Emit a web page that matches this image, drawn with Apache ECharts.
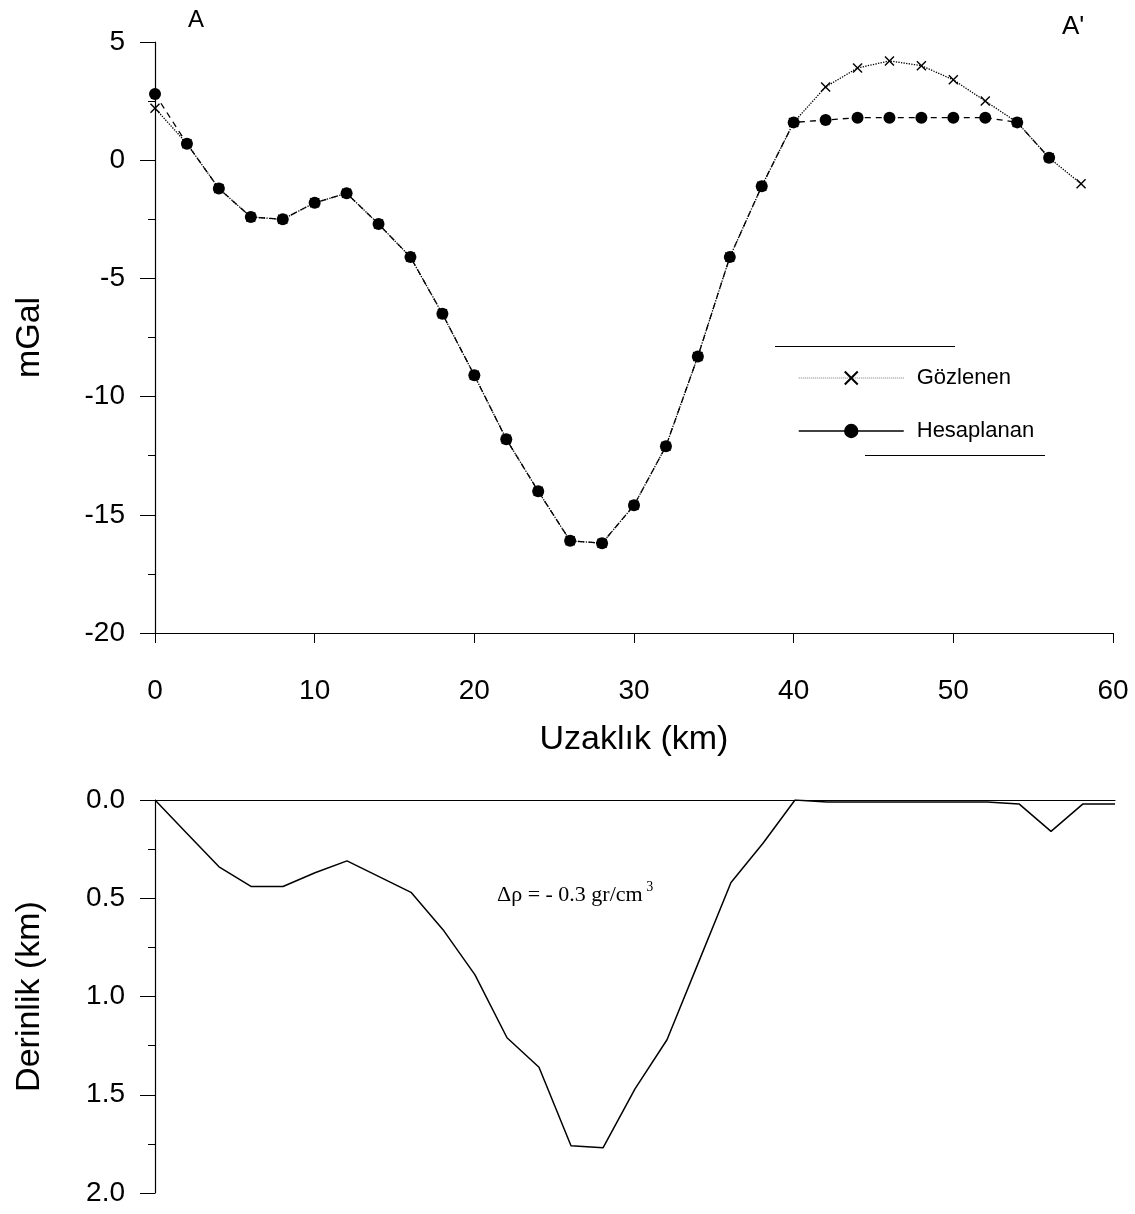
<!DOCTYPE html>
<html>
<head>
<meta charset="utf-8">
<script src="https://cdn.jsdelivr.net/npm/echarts@6/dist/echarts.min.js"></script>
<style>
html,body{margin:0;padding:0;background:#fff;}
#chart{width:1135px;height:1214px;}
</style>
</head>
<body>
<div id="chart"></div>
<script>
// ---- data ----
const distanceKm = [0,2,4,6,8,10,12,14,16,18,20,22,24,26,28,30,32,34,36,38,40,42,44,46,48,50,52,54,56,58];
const gozlenen = [2.2,0.7,-1.2,-2.4,-2.5,-1.8,-1.4,-2.7,-4.1,-6.5,-9.1,-11.8,-14.0,-16.1,-16.2,-14.6,-12.1,-8.3,-4.1,-1.1,1.6,3.1,3.9,4.2,4.0,3.4,2.5,1.6,0.1,-1.0];
const hesaplanan = [2.8,0.7,-1.2,-2.4,-2.5,-1.8,-1.4,-2.7,-4.1,-6.5,-9.1,-11.8,-14.0,-16.1,-16.2,-14.6,-12.1,-8.3,-4.1,-1.1,1.6,1.7,1.8,1.8,1.8,1.8,1.8,1.6,0.1];
const depthX = [0,2,4,6,8,10,12,14,16,18,20,22,24,26,28,30,32,34,36,38,40,42,44,46,48,50,52,54,56,58,60];
const depthKm = [0,0.17,0.34,0.44,0.44,0.37,0.31,0.39,0.47,0.66,0.89,1.21,1.36,1.76,1.77,1.47,1.22,0.82,0.42,0.22,0.0,0.01,0.01,0.01,0.01,0.01,0.01,0.02,0.16,0.02,0.02];
const gravityTicks = {min:-20, max:5, interval:5};
const depthTicks = {min:0, max:2, interval:0.5};
const distTicks = {min:0, max:60, interval:10};

const pair = (xs, ys) => ys.map((y, i) => [xs[i], y]);
const NARROW = "'Liberation Sans Narrow','Liberation Sans',Arial,sans-serif";
const SANS = "'Liberation Sans',Arial,sans-serif";
const crossPath = 'path://M0,1 L1,0 L5,4 L9,0 L10,1 L6,5 L10,9 L9,10 L5,6 L1,10 L0,9 L4,5Z';

const chart = echarts.init(document.getElementById('chart'));
const axisLabelStyle = {color:'#000', fontFamily:NARROW, fontSize:28};
chart.setOption({
  animation:false,
  backgroundColor:'#fff',
  grid:[
    {left:155, top:42, width:958, height:591},
    {left:155, top:800, width:960, height:393}
  ],
  xAxis:[
    {gridIndex:0, type:'value', min:distTicks.min, max:distTicks.max, interval:distTicks.interval,
     axisLine:{onZero:false, lineStyle:{color:'#000', width:1.2}},
     axisTick:{show:true, length:10, lineStyle:{color:'#000'}},
     axisLabel:Object.assign({margin:44}, axisLabelStyle),
     splitLine:{show:false},
     name:'Uzaklık (km)', nameLocation:'middle', nameGap:90,
     nameTextStyle:{color:'#000', fontFamily:SANS, fontSize:34}},
    {gridIndex:1, type:'value', position:'top', min:distTicks.min, max:distTicks.max, interval:distTicks.interval,
     axisLine:{onZero:false, lineStyle:{color:'#000', width:1.2}},
     axisTick:{show:false}, axisLabel:{show:false}, splitLine:{show:false}}
  ],
  yAxis:[
    {gridIndex:0, type:'value', min:gravityTicks.min, max:gravityTicks.max, interval:gravityTicks.interval,
     axisLine:{show:true, onZero:false, lineStyle:{color:'#000', width:1.2}},
     axisTick:{show:true, length:15, lineStyle:{color:'#000'}},
     minorTick:{show:true, splitNumber:2, length:7, lineStyle:{color:'#000'}},
     axisLabel:Object.assign({margin:30}, axisLabelStyle),
     splitLine:{show:false},
     name:'mGal', nameLocation:'middle', nameRotate:90, nameGap:108,
     nameTextStyle:{color:'#000', fontFamily:SANS, fontSize:34}},
    {gridIndex:1, type:'value', inverse:true, min:depthTicks.min, max:depthTicks.max, interval:depthTicks.interval,
     axisLine:{show:true, onZero:false, lineStyle:{color:'#000', width:1.2}},
     axisTick:{show:true, length:15, lineStyle:{color:'#000'}},
     minorTick:{show:true, splitNumber:2, length:7, lineStyle:{color:'#000'}},
     axisLabel:Object.assign({margin:30, formatter:v => v.toFixed(1)}, axisLabelStyle),
     splitLine:{show:false},
     name:'Derinlik (km)', nameLocation:'middle', nameRotate:90, nameGap:108,
     nameTextStyle:{color:'#000', fontFamily:SANS, fontSize:34}}
  ],
  legend:{
    orient:'vertical', left:793, top:362, itemWidth:105, itemHeight:18, itemGap:31,
    textStyle:{color:'#000', fontFamily:NARROW, fontSize:22, padding:[0,0,0,8]},
    data:[
      {name:'Gözlenen', lineStyle:{type:'dotted', width:1, color:'#777'}},
      {name:'Hesaplanan', lineStyle:{type:'solid', width:1.5, color:'#000'}}
    ]
  },
  series:[
    {name:'Gözlenen', type:'line', xAxisIndex:0, yAxisIndex:0, data:pair(distanceKm, gozlenen),
     symbol:crossPath, symbolSize:10, showAllSymbol:true,
     itemStyle:{color:'#000'}, lineStyle:{color:'#000', width:1.3, type:'dotted'}, z:3},
    {name:'Hesaplanan', type:'line', xAxisIndex:0, yAxisIndex:0, data:pair(distanceKm, hesaplanan),
     symbol:'circle', symbolSize:12, showAllSymbol:true,
     itemStyle:{color:'#000'}, lineStyle:{color:'#000', width:1.3, type:[6,5]}, z:4},
    {name:'Derinlik', type:'line', xAxisIndex:1, yAxisIndex:1, data:pair(depthX, depthKm),
     symbol:'none', lineStyle:{color:'#000', width:1.5}}
  ],
  graphic:[
    {type:'text', left:188, top:8, style:{text:'A', fill:'#000', font:"24px "+NARROW}},
    {type:'text', left:1062, top:14, style:{text:"A'", fill:'#000', font:"26px "+NARROW}},
    {type:'text', left:497, top:880, style:{
      text:'{a|Δρ = - 0.3 gr/cm}{s| 3}', fill:'#000',
      rich:{
        a:{fontFamily:"'Liberation Serif',serif", fontSize:22, fill:'#000', verticalAlign:'bottom'},
        s:{fontFamily:"'Liberation Serif',serif", fontSize:14, fill:'#000', verticalAlign:'top', padding:[0,0,12,0]}
      }}},
    {type:'line', shape:{x1:775, y1:346.5, x2:955, y2:346.5}, style:{stroke:'#000', lineWidth:1}},
    {type:'line', shape:{x1:865, y1:455.5, x2:1045, y2:455.5}, style:{stroke:'#000', lineWidth:1}}
  ]
});
</script>
</body>
</html>
